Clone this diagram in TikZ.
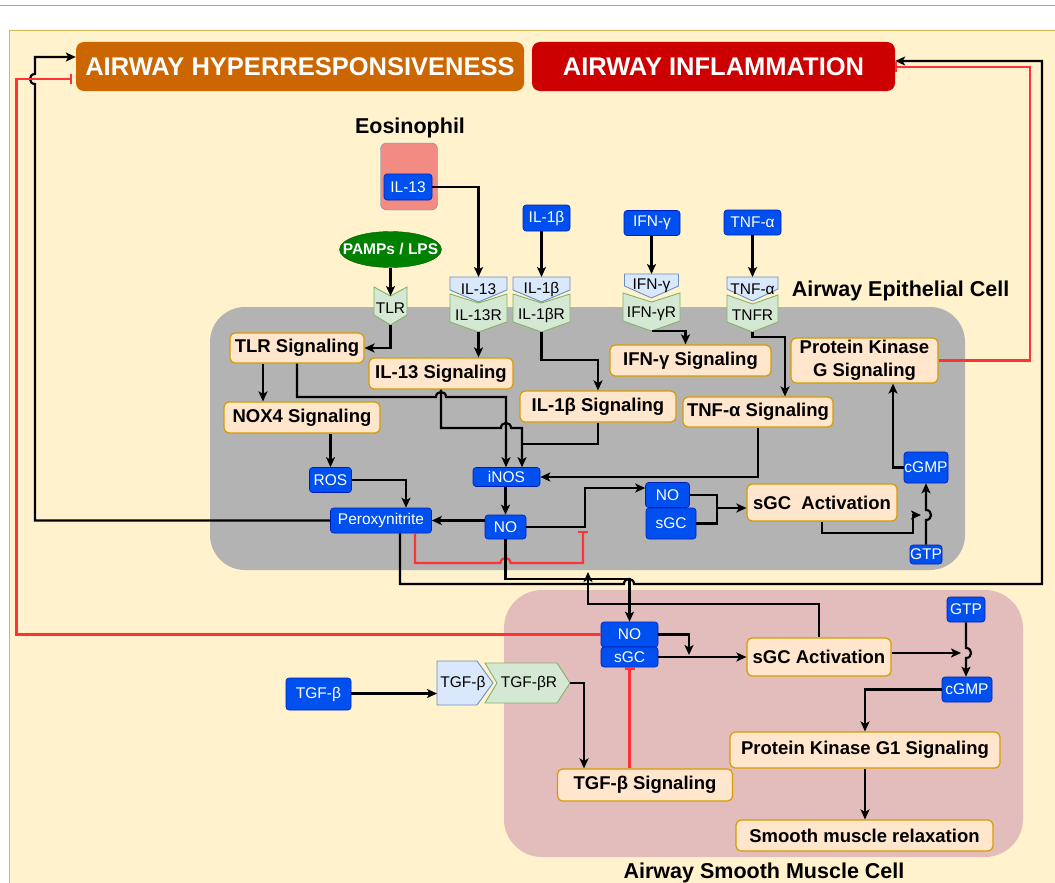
\documentclass[tikz,border=0pt]{standalone}
\usepackage{fontspec}
\setmainfont{Liberation Sans}
\usetikzlibrary{arrows.meta,shapes.geometric}
\definecolor{paper}{RGB}{255,242,204}
\definecolor{paperline}{RGB}{214,182,86}
\definecolor{epigray}{RGB}{179,179,179}
\definecolor{smpink}{RGB}{227,189,187}
\definecolor{molblue}{RGB}{0,80,239}
\definecolor{molline}{RGB}{0,29,188}
\definecolor{sigfill}{RGB}{255,230,204}
\definecolor{sigline}{RGB}{215,155,0}
\definecolor{recfill}{RGB}{213,232,212}
\definecolor{recline}{RGB}{130,179,102}
\definecolor{ligfill}{RGB}{218,232,252}
\definecolor{ligline}{RGB}{108,142,191}
\definecolor{ahrbrown}{RGB}{204,102,0}
\definecolor{infred}{RGB}{204,0,0}
\definecolor{eosred}{RGB}{242,139,130}
\definecolor{pampgreen}{RGB}{0,128,0}
\definecolor{block}{RGB}{255,51,51}

\newcommand{\ligdown}[6]{%
  \path[ligpoly] (#2-#4/2,#3) -- (#2+#4/2,#3) -- (#2+#4/2,#3+#5-12) -- (#2,#3+#5) -- (#2-#4/2,#3+#5-12) -- cycle;
  \coordinate (#1-t) at (#2,#3);
  \node[rectext] (#1) at (#2,#3+#5/2) {#6};}
\newcommand{\recdown}[6]{%
  \path[recpoly] (#2-#4/2,#3) -- (#2,#3+9) -- (#2+#4/2,#3) -- (#2+#4/2,#3+#5-10) -- (#2,#3+#5) -- (#2-#4/2,#3+#5-10) -- cycle;
  \coordinate (#1-t) at (#2,#3+9);
  \coordinate (#1-b) at (#2,#3+#5);
  \node[rectext] (#1) at (#2,#3+#5/2+2) {#6};}

\begin{document}
\begin{tikzpicture}[x=1pt,y=-1pt,
    sz/.style 2 args={minimum width=#1pt,minimum height=#2pt},
    sig/.style={draw=sigline,fill=sigfill,line width=1.2pt,rounded corners=5pt,inner sep=0pt,align=center,font=\bfseries\fontsize{18.5}{23}\selectfont},
    mol/.style={draw=molline,fill=molblue,line width=0.6pt,rounded corners=3pt,inner sep=0pt,text=white,font=\fontsize{15.5}{17}\selectfont},
    banner/.style={rounded corners=8pt,inner sep=0pt,text=white,font=\bfseries\fontsize{25.5}{28}\selectfont},
    celllab/.style={font=\bfseries\fontsize{21.5}{25}\selectfont},
    rectext/.style={inner sep=0pt,font=\fontsize{15.5}{17}\selectfont},
    ligpoly/.style={draw=ligline,fill=ligfill,line width=0.9pt},
    recpoly/.style={draw=recline,fill=recfill,line width=0.9pt},
    wire/.style={line width=2.2pt},
    arr/.style={wire,-{Stealth[length=10pt,width=9pt,inset=2.5pt]}},
    inh/.style={wire,draw=block,-{Bar[width=10pt]}}]
  \useasboundingbox (0,0) rectangle (1055,883);
  \clip (0,0) rectangle (1055,883);
  \fill[white] (0,0) rectangle (1055,883);
  \draw[gray!70,line width=1pt] (0,6) -- (1055,6);
  \draw[paperline,fill=paper,line width=0.8pt] (9,30) rectangle (1075,900);
  \fill[epigray,rounded corners=35pt] (210,307) rectangle (965,570);
  \fill[smpink,rounded corners=38pt] (504,590) rectangle (1023,857);

  \node[banner,fill=ahrbrown,sz={448}{49}] (ahr) at (300,66.5) {AIRWAY HYPERRESPONSIVENESS};
  \node[banner,fill=infred,sz={363}{49}] (ainf) at (713.5,66.5) {AIRWAY INFLAMMATION};

  \node[celllab] (eoslab) at (410,128) {Eosinophil};
  \node[draw=ligline,fill=eosred,rounded corners=6pt,sz={57}{67}] (eos) at (409,176.5) {};
  \node[mol,sz={48}{26}] (il13) at (408,187) {IL-13};
  \node[ellipse,fill=pampgreen,draw=pampgreen!70!black,text=white,inner sep=0pt,sz={102}{36},
    font=\bfseries\fontsize{15.5}{17}\selectfont] (pamps) at (390.5,249.5) {\makebox[0pt]{PAMPs / LPS}};
  \node[mol,sz={47}{26}] (il1b) at (546.5,218) {IL-1β};
  \node[mol,sz={56}{25}] (ifng) at (652,223) {IFN-γ};
  \node[mol,sz={57}{25}] (tnfa) at (752.5,222.5) {TNF-α};

  \recdown{rtlr}{390.5}{287}{33}{38}{TLR}
  \recdown{ril13r}{478.5}{294}{57}{38}{IL-13R}
  \recdown{ril1br}{541.5}{294}{57}{38}{IL-1βR}
  \recdown{rifngr}{651.5}{293}{57}{38}{IFN-γR}
  \recdown{rtnfr}{752.5}{295}{51}{37}{TNFR}
  \ligdown{lil13}{478.5}{277}{57}{25}{IL-13}
  \ligdown{lil1b}{541.5}{277}{57}{25}{IL-1β}
  \ligdown{lifng}{651.5}{274}{54}{24}{IFN-γ}
  \ligdown{ltnfa}{752.5}{277}{51}{24}{TNF-α}

  \node[celllab] (epilab) at (900.5,291) {Airway Epithelial Cell};
  \node[sig,sz={134}{30}] (tlrs) at (297,348) {TLR Signaling};
  \node[sig,sz={144}{31}] (il13s) at (441,373.5) {IL-13 Signaling};
  \node[sig,sz={156}{31}] (nox4s) at (302,417.5) {NOX4 Signaling};
  \node[sig,sz={156}{31}] (il1bs) at (598,406.5) {IL-1β Signaling};
  \node[sig,sz={161}{31}] (ifngs) at (690.5,360.5) {IFN-γ Signaling};
  \node[sig,sz={150}{30}] (tnfs) at (758,412) {TNF-α Signaling};
  \node[sig,sz={147}{45}] (pkgs) at (864.5,360.5) {Protein Kinase\\G Signaling};
  \node[sig,sz={150}{37}] (sgcacte) at (822,502.5) {sGC~~Activation};
  \node[mol,sz={42}{25}] (ros) at (330.5,480) {ROS};
  \node[mol,sz={67}{19}] (inos) at (506.5,477) {iNOS};
  \node[mol,sz={101}{25}] (peroxy) at (381,520.5) {Peroxynitrite};
  \node[mol,sz={41}{24}] (noc) at (505.5,527) {NO};
  \node[mol,sz={44}{25}] (noe) at (667.5,495) {NO};
  \node[mol,sz={50}{31}] (sgce) at (671,523.5) {sGC};
  \node[mol,sz={44}{31}] (cgmpe) at (926,467.5) {cGMP};
  \node[mol,sz={32}{19}] (gtpe) at (926,554.5) {GTP};

  \node[mol,sz={57}{25}] (nosm) at (629.5,634.5) {NO};
  \node[mol,sz={57}{20}] (sgcsm) at (629.5,657) {sGC};
  \node[sig,sz={144}{38}] (sgcactsm) at (819,657) {sGC Activation};
  \node[mol,sz={38}{25}] (gtpsm) at (966,609.5) {GTP};
  \node[mol,sz={50}{25}] (cgmpsm) at (967,689.5) {cGMP};
  \node[sig,sz={270}{36}] (pkg1s) at (865,750) {Protein Kinase G1 Signaling};
  \node[sig,sz={257}{31}] (smr) at (864.5,835.5) {Smooth muscle relaxation};
  \node[sig,sz={175}{32}] (tgfbs) at (645,785) {TGF-β Signaling};
  \node[mol,sz={65}{32}] (tgfb) at (318.5,694) {TGF-β};
  \path[recpoly] (485,663) -- (557,663) -- (570,683) -- (557,703) -- (485,703) -- (497,683) -- cycle;
  \path[ligpoly] (437,661) -- (477,661) -- (493,683) -- (477,705) -- (437,705) -- cycle;
  \node[rectext] (ltgfb) at (463,683) {TGF-β};
  \node[rectext] (rtgfb) at (529,683) {TGF-βR};
  \coordinate (ltgfb-w) at (437,693.5);
  \coordinate (rtgfb-e) at (570,683);
  \node[celllab] (smlab) at (764,873) {Airway Smooth Muscle Cell};

  \coordinate (noblock) at (583,531);
  \coordinate (epibase) at (588,572);
  \coordinate (gtpehop) at (921,515);
  \coordinate (gtpsmhop) at (961,653);
  \coordinate (sgcjoin) at (689,655);
  \coordinate (ahrbar) at (72,79);

  \draw[arr] (il13.east) -| (lil13-t);
  \draw[arr] (lil1b-t |- il1b.south) -- (lil1b-t);
  \draw[arr] (lifng-t |- ifng.south) -- (lifng-t);
  \draw[arr] (ltnfa-t |- tnfa.south) -- (ltnfa-t);
  \draw[arr] (pamps.south) -- (rtlr-t);
  \draw[arr] (rtlr-b) |- (tlrs.east);
  \draw[arr] (ril13r-b) -- (ril13r-b |- il13s.north);
  \draw[arr] (ril1br-b) -- (541.5,360) -| (il1bs.north);
  \draw[arr] (rifngr-b) -| ([xshift=-5pt]ifngs.north);
  \draw[arr] (rtnfr-b) -- (752.5,337) -| ([xshift=27pt]tnfs.north);

  \draw[arr] (tlrs.south -| 263,0) -- (nox4s.north -| 263,0);
  \draw[arr] (tlrs.south) -- (297,397) -- (436,397) .. controls (436,390.3) and (446,390.3) .. (446,397) -- (506,397) -- (inos.north -| 506,0);
  \draw[arr] (il13s.south) -- (441,428) -- (501,428) .. controls (501,421.3) and (511,421.3) .. (511,428) -- (522,428) -- (inos.north -| 522,0);
  \draw[wire] (il1bs.south) |- (522,444);
  \draw[arr] (tnfs.south) |- (inos.east);
  \draw[arr] (nox4s.south -| ros.north) -- (ros.north);
  \draw[arr] (ros.east) -| (peroxy.north -| 406,0);
  \draw[arr] (inos.south -| noc.north) -- (noc.north);
  \draw[arr] (noc.west |- peroxy.east) -- (peroxy.east);
  \draw[arr] (noc.east) -- (585,527) -- (585,488) -- (noe.west |- 0,488);
  \draw[inh] (peroxy.south -| 415,0) -- (415,563) -- (500.5,563) .. controls (500.5,556.3) and (510.5,556.3) .. (510.5,563) -- (583,563) -- (noblock);
  \draw[wire] (noe.east) -| (717,508);
  \draw[arr] (sgce.east) -| (717,508) -- (sgcacte.west |- 0,508);
  \draw[arr] (sgcacte.south) -- (822,533) -- (913,533) -- (913,515) -- (gtpehop);
  \draw[arr] (gtpe.north) -- (926,520) .. controls (932.7,520) and (932.7,510) .. (926,510) -- (cgmpe.south);
  \draw[arr] (cgmpe.west) -| ([xshift=28.5pt]pkgs.south);
  \draw[inh] (pkgs.east) -- (1030,360.5) -- (1030,67) -- (ainf.east |- 0,67);

  \draw[arr] (peroxy.west) -- (35,520.5) -- (35,84) .. controls (28.3,84) and (28.3,74) .. (35,74) -- (35,57) -- (ahr.west |- 0,57);
  \draw[inh] (nosm.west) -- (16.5,634.5) -- (16.5,79) -- (ahrbar);
  \draw[arr] (peroxy.south -| 400,0) -- (400,584) -- (624,584) .. controls (624,577.3) and (634,577.3) .. (634,584) -- (1042,584) -- (1042,61) -- (ainf.east |- 0,61);
  \draw[arr] (noc.south) -- (505.5,579) -| (nosm.north);
  \draw[arr] (sgcactsm.north) -- (819,604) -| (epibase);

  \draw[arr] (nosm.east) -| (sgcjoin);
  \draw[arr] (sgcsm.east) -- (sgcactsm.west |- sgcsm.east);
  \draw[arr] (sgcactsm.east |- 0,653) -- (gtpsmhop);
  \draw[arr] (gtpsm.south) -- (966,648) .. controls (972.7,648) and (972.7,658) .. (966,658) -- (cgmpsm.north -| 966,0);
  \draw[arr] (cgmpsm.west) -| (pkg1s.north);
  \draw[arr] (pkg1s.south) -- (pkg1s.south |- smr.north);
  \draw[arr] (tgfb.east |- ltgfb-w) -- (ltgfb-w);
  \draw[arr] (rtgfb-e) -| ([xshift=-61pt]tgfbs.north);
  \draw[inh] (tgfbs.north -| sgcsm.south) -- (sgcsm.south);
\end{tikzpicture}
\end{document}
